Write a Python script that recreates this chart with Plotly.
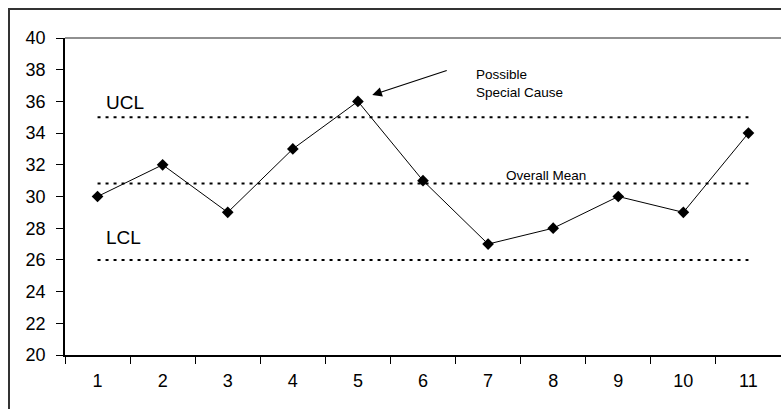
import plotly.graph_objects as go

categories = [str(i) for i in range(1, 12)]
values = [30, 32, 29, 33, 36, 31, 27, 28, 30, 29, 34]
ucl = 35
lcl = 26
mean = sum(values) / len(values)
y_ticks = list(range(20, 41, 2))

FONT = "Liberation Sans, Arial, sans-serif"

# plot area at 65..781 x 38..355 of the 781x409 window (figure a bit wider, clipped)
W, H = 792, 409
L, T, PW, PH = 65, 38, 716, 317

fig = go.Figure()
for lvl in [ucl, mean, lcl]:
    fig.add_trace(go.Scatter(
        x=[categories[0], categories[-1]], y=[lvl, lvl], mode="lines",
        line=dict(color="black", width=2, dash="3px,5px"),
        hoverinfo="skip", showlegend=False))

fig.add_trace(go.Scatter(
    x=categories, y=values, mode="lines+markers",
    line=dict(color="black", width=1),
    marker=dict(symbol="diamond", size=9, color="black"),
    showlegend=False))

fig.update_layout(
    width=W, height=H,
    margin=dict(l=L, r=W - L - PW, t=T, b=H - T - PH, autoexpand=False),
    paper_bgcolor="white", plot_bgcolor="white",
    font=dict(family=FONT, color="black", size=18),
    xaxis=dict(type="category", categoryorder="array", categoryarray=categories,
               tickson="boundaries", ticks="outside",
               ticklen=7, tickcolor="black", showline=True, linecolor="black",
               linewidth=1.5, showgrid=False, zeroline=False,
               tickfont=dict(size=18), ticklabelstandoff=9,
               range=[-0.5, 10.5], automargin=False),
    yaxis=dict(range=[20, 40], tickvals=y_ticks, ticks="outside", ticklen=7,
               tickcolor="black", showline=True, linecolor="black",
               linewidth=1.5, showgrid=False, zeroline=False,
               tickfont=dict(size=18), ticklabelstandoff=7, automargin=False),
    shapes=[
        dict(type="rect", xref="paper", yref="paper",
             x0=(9 - L) / PW, x1=1.2, y0=-0.5, y1=(PH + T - 9) / PH,
             line=dict(color="#333333", width=2), layer="above"),
        dict(type="line", xref="paper", yref="paper",
             x0=0, x1=1.2, y0=1, y1=1,
             line=dict(color="#909090", width=2)),
    ],
    annotations=[
        dict(x=0.1, y=35.95, xref="x", yref="y", text="UCL", showarrow=False,
             xanchor="left", yanchor="middle", font=dict(size=19)),
        dict(x=0.1, y=27.4, xref="x", yref="y", text="LCL", showarrow=False,
             xanchor="left", yanchor="middle", font=dict(size=19)),
        dict(x=5.78, y=37.13, xref="x", yref="y",
             text="Possible<br>Special Cause", showarrow=False, align="left",
             xanchor="left", yanchor="middle", font=dict(size=13.5)),
        dict(x=6.25, y=31.3, xref="x", yref="y", text="Overall Mean",
             showarrow=False, xanchor="left", yanchor="middle",
             font=dict(size=13.5)),
        dict(x=4.22, y=36.4, xref="x", yref="y", text="", showarrow=True,
             ax=76, ay=-25, arrowhead=2, arrowsize=1.6, arrowwidth=1.2,
             arrowcolor="black"),
    ],
)

fig.write_html(
    "out.html",
    config={"displayModeBar": False},
    post_script="document.body.style.margin='0';document.body.style.overflow='hidden';",
)
